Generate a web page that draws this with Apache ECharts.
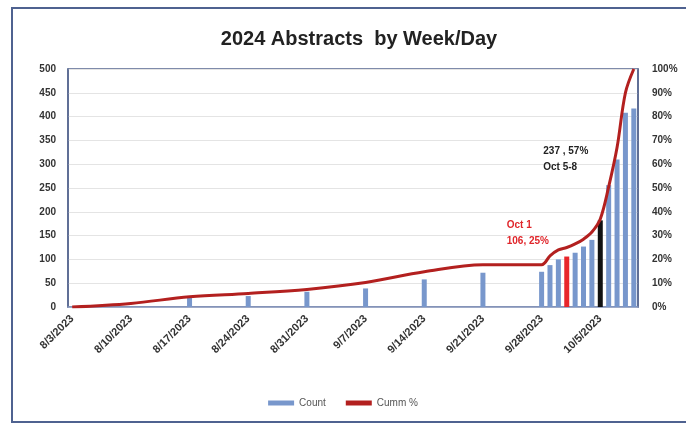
<!DOCTYPE html>
<html>
<head>
<meta charset="utf-8">
<script src="https://cdn.jsdelivr.net/npm/echarts@6/dist/echarts.min.js"></script>
<style>
html,body{margin:0;padding:0;background:#fff;}
#c{width:686px;height:425px;}
</style>
</head>
<body>
<div id="c"></div>
<script>
// ---- data ----
const startDate = '2023-08-03';
const dayCount = 68; // 8/3/2023 .. 10/9/2023
const barDates = ['8/17/2023','8/24/2023','8/31/2023','9/7/2023','9/14/2023','9/21/2023',
  '9/28/2023','9/29/2023','9/30/2023','10/1/2023','10/2/2023','10/3/2023','10/4/2023',
  '10/5/2023','10/6/2023','10/7/2023','10/8/2023','10/9/2023'];
const barValues = [20, 23, 32, 39, 58, 72, 74, 88, 100, 106, 114, 127, 141, 182, 256, 310, 408, 417];
const lineDates = ['8/3/2023','8/10/2023','8/17/2023','8/24/2023','8/31/2023','9/7/2023','9/14/2023',
  '9/21/2023','9/28/2023','9/29/2023','9/30/2023','10/1/2023','10/2/2023','10/3/2023','10/4/2023',
  '10/5/2023','10/6/2023','10/7/2023','10/8/2023','10/9/2023'];
const lineValues = [0, 1.5, 4.3, 5.7, 7.4, 10.3, 14.8, 17.8, 17.8, 21.5, 24, 25, 26.5, 28.5, 31.5, 37, 50.5, 67, 90, 100];
const leftTicks = [0, 500, 50];
const rightTicks = [0, 100, 10];
const redDate = '10/1/2023', redLabel = 'Oct 1\n106, 25%';
const blackDate = '10/5/2023', blackLabel = '237 , 57%\nOct 5-8';

// ---- categories ----
const categories = [];
{
  const d0 = new Date(startDate + 'T12:00:00');
  for (let i = 0; i < dayCount; i++) {
    const d = new Date(d0.getTime() + i * 86400000);
    categories.push((d.getMonth() + 1) + '/' + d.getDate() + '/' + d.getFullYear());
  }
}
const barSeries = categories.map(() => '-');
barDates.forEach((d, i) => {
  const idx = categories.indexOf(d);
  let item = { value: barValues[i] };
  if (d === redDate) {
    item.itemStyle = { color: '#e8262b' };
    item.label = { show: true, position: 'top', offset: [-60, -2], formatter: redLabel,
      color: '#e0262b', fontWeight: 'bold', fontSize: 10, lineHeight: 16, align: 'left' };
  } else if (d === blackDate) {
    item.itemStyle = { color: '#111' };
    item.label = { show: true, position: 'top', offset: [-57, -40], formatter: blackLabel,
      color: '#222', fontWeight: 'bold', fontSize: 10, lineHeight: 16, align: 'left' };
  }
  barSeries[idx] = item;
});
const lineSeries = categories.map(() => null);
lineDates.forEach((d, i) => { lineSeries[categories.indexOf(d)] = lineValues[i]; });

const chart = echarts.init(document.getElementById('c'), null, { renderer: 'canvas' });
chart.setOption({
  animation: false,
  backgroundColor: '#fff',
  title: {
    text: '2024 Abstracts  by Week/Day', left: 354, textAlign: 'center', top: 24,
    textStyle: { fontSize: 20, fontWeight: 'bold', color: '#222', fontFamily: 'Liberation Sans' }
  },
  legend: {
    bottom: 12, left: 'center', itemGap: 20,
    itemWidth: 26, itemHeight: 5,
    textStyle: { fontSize: 10, color: '#555', fontFamily: 'Liberation Sans' },
    data: [{ name: 'Count', icon: 'rect' }, { name: 'Cumm %', icon: 'rect' }]
  },
  grid: { left: 68, right: 48, top: 69, bottom: 118, show: true, borderColor: '#56668f', borderWidth: 1.5 },
  xAxis: {
    type: 'category', data: categories, boundaryGap: true,
    axisLine: { lineStyle: { color: '#8796bd', width: 1.5 } },
    axisTick: { show: false },
    axisLabel: {
      interval: (i) => i % 7 === 0, rotate: 45, fontSize: 11, fontWeight: 'bold',
      color: '#333', fontFamily: 'Liberation Sans', margin: 10
    }
  },
  yAxis: [{
    type: 'value', min: leftTicks[0], max: leftTicks[1], interval: leftTicks[2],
    axisLine: { show: true, lineStyle: { color: '#56668f', width: 1.5 } },
    axisTick: { show: false },
    splitLine: { lineStyle: { color: '#e4e4e4' } },
    axisLabel: { fontSize: 10, fontWeight: 'bold', color: '#333', fontFamily: 'Liberation Sans', margin: 12 }
  }, {
    type: 'value', min: rightTicks[0], max: rightTicks[1], interval: rightTicks[2],
    axisLine: { show: true, lineStyle: { color: '#56668f', width: 1.5 } },
    axisTick: { show: false },
    splitLine: { show: false },
    axisLabel: { formatter: '{value}%', fontSize: 10, fontWeight: 'bold', color: '#333', fontFamily: 'Liberation Sans', margin: 14 }
  }],
  series: [{
    name: 'Count', type: 'bar', data: barSeries, barWidth: 5,
    itemStyle: { color: '#7897cc' }
  }, {
    name: 'Cumm %', type: 'line', yAxisIndex: 1, data: lineSeries, connectNulls: true,
    smooth: 0.35, showSymbol: false, symbol: 'none',
    lineStyle: { color: '#b3201f', width: 3 }, itemStyle: { color: '#b3201f' }
  }],
  graphic: [{
    type: 'rect', shape: { x: 12, y: 8, width: 690, height: 414 },
    style: { fill: 'none', stroke: '#4f6290', lineWidth: 2 }, silent: true
  }]
});
</script>
</body>
</html>
